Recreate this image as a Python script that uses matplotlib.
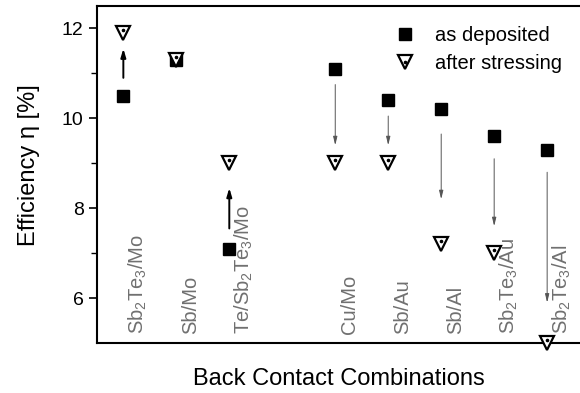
import matplotlib
matplotlib.use("Agg")
import matplotlib.pyplot as plt
from matplotlib.legend_handler import HandlerTuple

plt.rcParams['font.family'] = ['Liberation Sans', 'DejaVu Sans']
plt.rcParams['mathtext.default'] = 'regular'

# data
contacts = ['Sb$_2$Te$_3$/Mo', 'Sb/Mo', 'Te/Sb$_2$Te$_3$/Mo', 'Cu/Mo', 'Sb/Au',
            'Sb/Al', 'Sb$_2$Te$_3$/Au', 'Sb$_2$Te$_3$/Al']
positions = [1, 2, 3, 5, 6, 7, 8, 9]
as_deposited = [10.5, 11.3, 7.1, 11.1, 10.4, 10.2, 9.6, 9.3]
after_stress = [11.9, 11.3, 9.0, 9.0, 9.0, 7.2, 7.0, 5.0]

# arrows between the two states (start, end) in %
arrow_from = [10.9, None, 7.55, 10.75, 10.05, 9.65, 9.1, 8.8]
arrow_to = [11.55, None, 8.45, 9.4, 9.4, 8.2, 7.6, 5.9]

fig = plt.figure(figsize=(5.8, 3.93), dpi=100)
ax = fig.add_axes([0.167, 0.127, 0.833, 0.858])

sq, = ax.plot(positions, as_deposited, ls='none', marker='s', ms=8.5,
              color='black', clip_on=False, zorder=3)
tri, = ax.plot(positions, after_stress, ls='none', marker='v', ms=10,
               mfc='white', mec='black', mew=1.6, clip_on=False, zorder=4)
dot, = ax.plot(positions, [v + 0.07 for v in after_stress], ls='none',
               marker='o', ms=1.6, color='black', clip_on=False, zorder=5)

for x, a, b in zip(positions, arrow_from, arrow_to):
    if a is None:
        continue
    if b > a:
        props = dict(arrowstyle='-|>,head_length=0.5,head_width=0.15',
                     color='black', lw=1.4, shrinkA=0, shrinkB=0)
    else:
        props = dict(arrowstyle='-|>,head_length=0.5,head_width=0.12',
                     color='#555555', lw=0.7, shrinkA=0, shrinkB=0)
    ax.annotate('', xy=(x, b), xytext=(x, a), arrowprops=props)

for x, name in zip(positions, contacts):
    ax.text(x + 0.27, 5.2, name, rotation=90, ha='center', va='bottom',
            fontsize=14.5, color='#707070')

ax.set_xlim(0.5, 9.62)
ax.set_ylim(5, 12.5)
ax.set_yticks([6, 8, 10, 12])
ax.set_yticks([7, 9, 11], minor=True)
ax.set_xticks([])
ax.tick_params(axis='y', which='major', length=6, width=1.2, labelsize=14)
ax.tick_params(axis='y', which='minor', length=4, width=1.0)
ax.spines['right'].set_visible(False)
for s in ['left', 'top', 'bottom']:
    ax.spines[s].set_linewidth(1.5)

ax.set_ylabel('Efficiency η [%]', fontsize=17)
ax.yaxis.set_label_coords(-0.118, 0.528)
ax.set_xlabel('Back Contact Combinations', fontsize=17, labelpad=18)

ax.legend([sq, (tri, dot)], ['as deposited', 'after stressing'],
          handler_map={tuple: HandlerTuple(ndivide=1, pad=0)},
          loc='upper left', bbox_to_anchor=(0.6, 0.965), frameon=False,
          fontsize=14.5, handlelength=1.0, handletextpad=1.0,
          labelspacing=0.45, borderaxespad=0)

fig.savefig('out.png', dpi=100)
